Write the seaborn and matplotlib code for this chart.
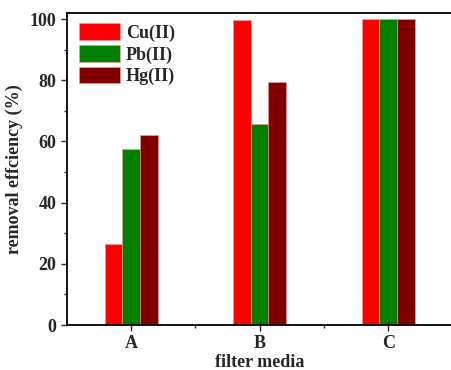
"""
Removal efficiency of metal ions by filter media (grouped bars)
"""

import pandas as pd
import matplotlib.pyplot as plt
import seaborn as sns
from matplotlib.ticker import MultipleLocator, FixedLocator
from matplotlib.patches import Patch

sns.set_style("ticks")
plt.rcParams['font.family'] = ['Liberation Serif', 'DejaVu Serif']
plt.rcParams['font.weight'] = 'bold'

# data
media = ['A', 'B', 'C']
ions = ['Cu(II)', 'Pb(II)', 'Hg(II)']
cu_vals = [26.5, 99.6, 100.0]
pb_vals = [57.4, 65.6, 100.0]
hg_vals = [62.0, 79.4, 100.0]

ION_COLORS = {'Cu(II)': '#FF0000', 'Pb(II)': '#008000', 'Hg(II)': '#800000'}

df = pd.DataFrame({
    'media': media * 3,
    'ion': [ions[0]] * 3 + [ions[1]] * 3 + [ions[2]] * 3,
    'value': cu_vals + pb_vals + hg_vals,
})

fig = plt.figure(figsize=(4.52, 3.70), dpi=100)
ax = fig.add_axes([0.148, 0.1216, 0.853, 0.8433])

sns.barplot(data=df, x='media', y='value', hue='ion', order=media,
            hue_order=ions, palette=ION_COLORS, width=0.41, saturation=1,
            edgecolor='#f4a0a0', linewidth=0.4, ax=ax, legend=False)

ax.set_xlim(-0.5, 2.5)
ax.set_ylim(0, 102)
ax.yaxis.set_major_locator(MultipleLocator(20))
ax.yaxis.set_minor_locator(MultipleLocator(10))
ax.xaxis.set_minor_locator(FixedLocator([0.5, 1.5]))
ax.tick_params(axis='both', which='major', direction='out', length=4.5,
               width=1, labelsize=13, pad=3)
ax.tick_params(axis='both', which='minor', direction='out', length=2.5, width=1)
for lbl in ax.get_xticklabels() + ax.get_yticklabels():
    lbl.set_fontweight('bold')

for side in ['left', 'bottom', 'top']:
    ax.spines[side].set_linewidth(1.3)
    ax.spines[side].set_color('black')
# right edge of the frame falls outside the picture
ax.spines['right'].set_visible(False)

ax.set_xlabel('filter media', fontsize=13, fontweight='bold', labelpad=1)
ax.set_ylabel('removal effciency (%)', fontsize=13, fontweight='bold', labelpad=5)

handles = [Patch(facecolor=ION_COLORS[i], edgecolor='#f4a0a0', linewidth=0.4) for i in ions]
ax.legend(handles, ions, loc='upper left', frameon=False,
          prop={'weight': 'bold', 'size': 13}, handlelength=2.3,
          handleheight=1.05, labelspacing=0.17, handletextpad=0.3,
          borderaxespad=0.0, bbox_to_anchor=(0.012, 0.99))

plt.savefig('out.png', dpi=100, facecolor='white')
